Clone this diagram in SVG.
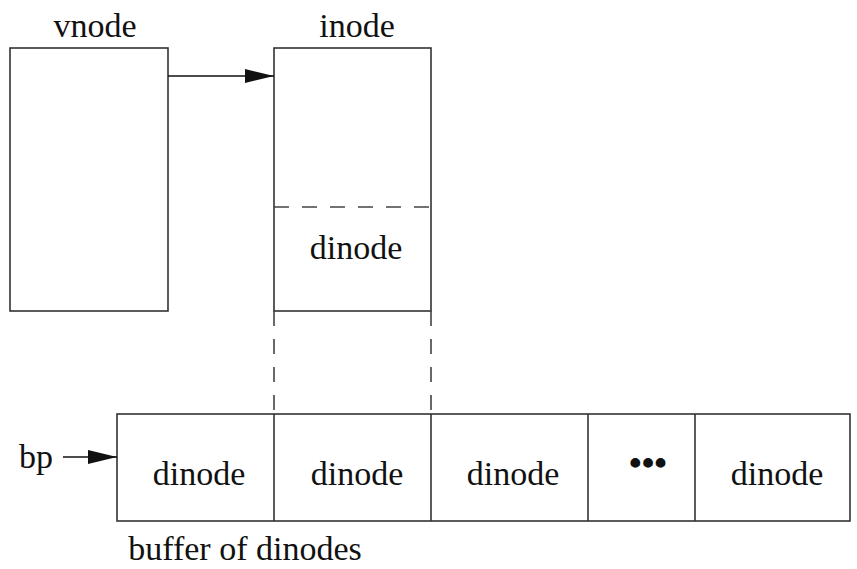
<svg xmlns="http://www.w3.org/2000/svg" width="857" height="569" viewBox="0 0 857 569">
<style>
text{font-family:"Liberation Serif","Times New Roman",serif;font-size:34px;fill:#111;text-anchor:middle}
.dots{font-weight:bold;font-size:36px}
.box{fill:none;stroke:#333;stroke-width:1.6}
.dash{fill:none;stroke:#444;stroke-width:1.6;stroke-dasharray:15 13}
.conn{fill:none;stroke:#111;stroke-width:1.5}
</style>
<defs>
<marker id="ah" markerWidth="29" markerHeight="14" refX="29" refY="7" orient="auto" markerUnits="userSpaceOnUse">
<path d="M0,0 L29,7 L0,14 Z" fill="#111"/>
</marker>
</defs>
<rect width="857" height="569" fill="#fff"/>
<g id="vnode">
<rect class="box" x="10" y="48" width="158" height="263"/>
<text x="95" y="37">vnode</text>
</g>
<g id="inode">
<rect class="box" x="274" y="48" width="157" height="263"/>
<line class="dash" x1="274" y1="207" x2="431" y2="207"/>
<text x="357" y="37">inode</text>
<text x="356" y="259">dinode</text>
</g>
<g id="buffer">
<rect class="box" x="117" y="414" width="733" height="107"/>
<line class="box" x1="274" y1="414" x2="274" y2="521"/>
<line class="box" x1="431" y1="414" x2="431" y2="521"/>
<line class="box" x1="588" y1="414" x2="588" y2="521"/>
<line class="box" x1="695" y1="414" x2="695" y2="521"/>
<text x="199" y="485">dinode</text>
<text x="357" y="485">dinode</text>
<text x="513" y="485">dinode</text>
<text class="dots" x="648" y="475">•••</text>
<text x="777" y="485">dinode</text>
<text x="245" y="560">buffer of dinodes</text>
</g>
<g id="bp">
<text x="36" y="468">bp</text>
</g>
<g id="connectors">
<line class="conn" x1="168" y1="76" x2="274" y2="76" marker-end="url(#ah)"/>
<line class="conn" x1="63" y1="457" x2="117" y2="457" marker-end="url(#ah)"/>
<line class="dash" x1="274" y1="311" x2="274" y2="414"/>
<line class="dash" x1="431" y1="311" x2="431" y2="414"/>
</g>
</svg>
